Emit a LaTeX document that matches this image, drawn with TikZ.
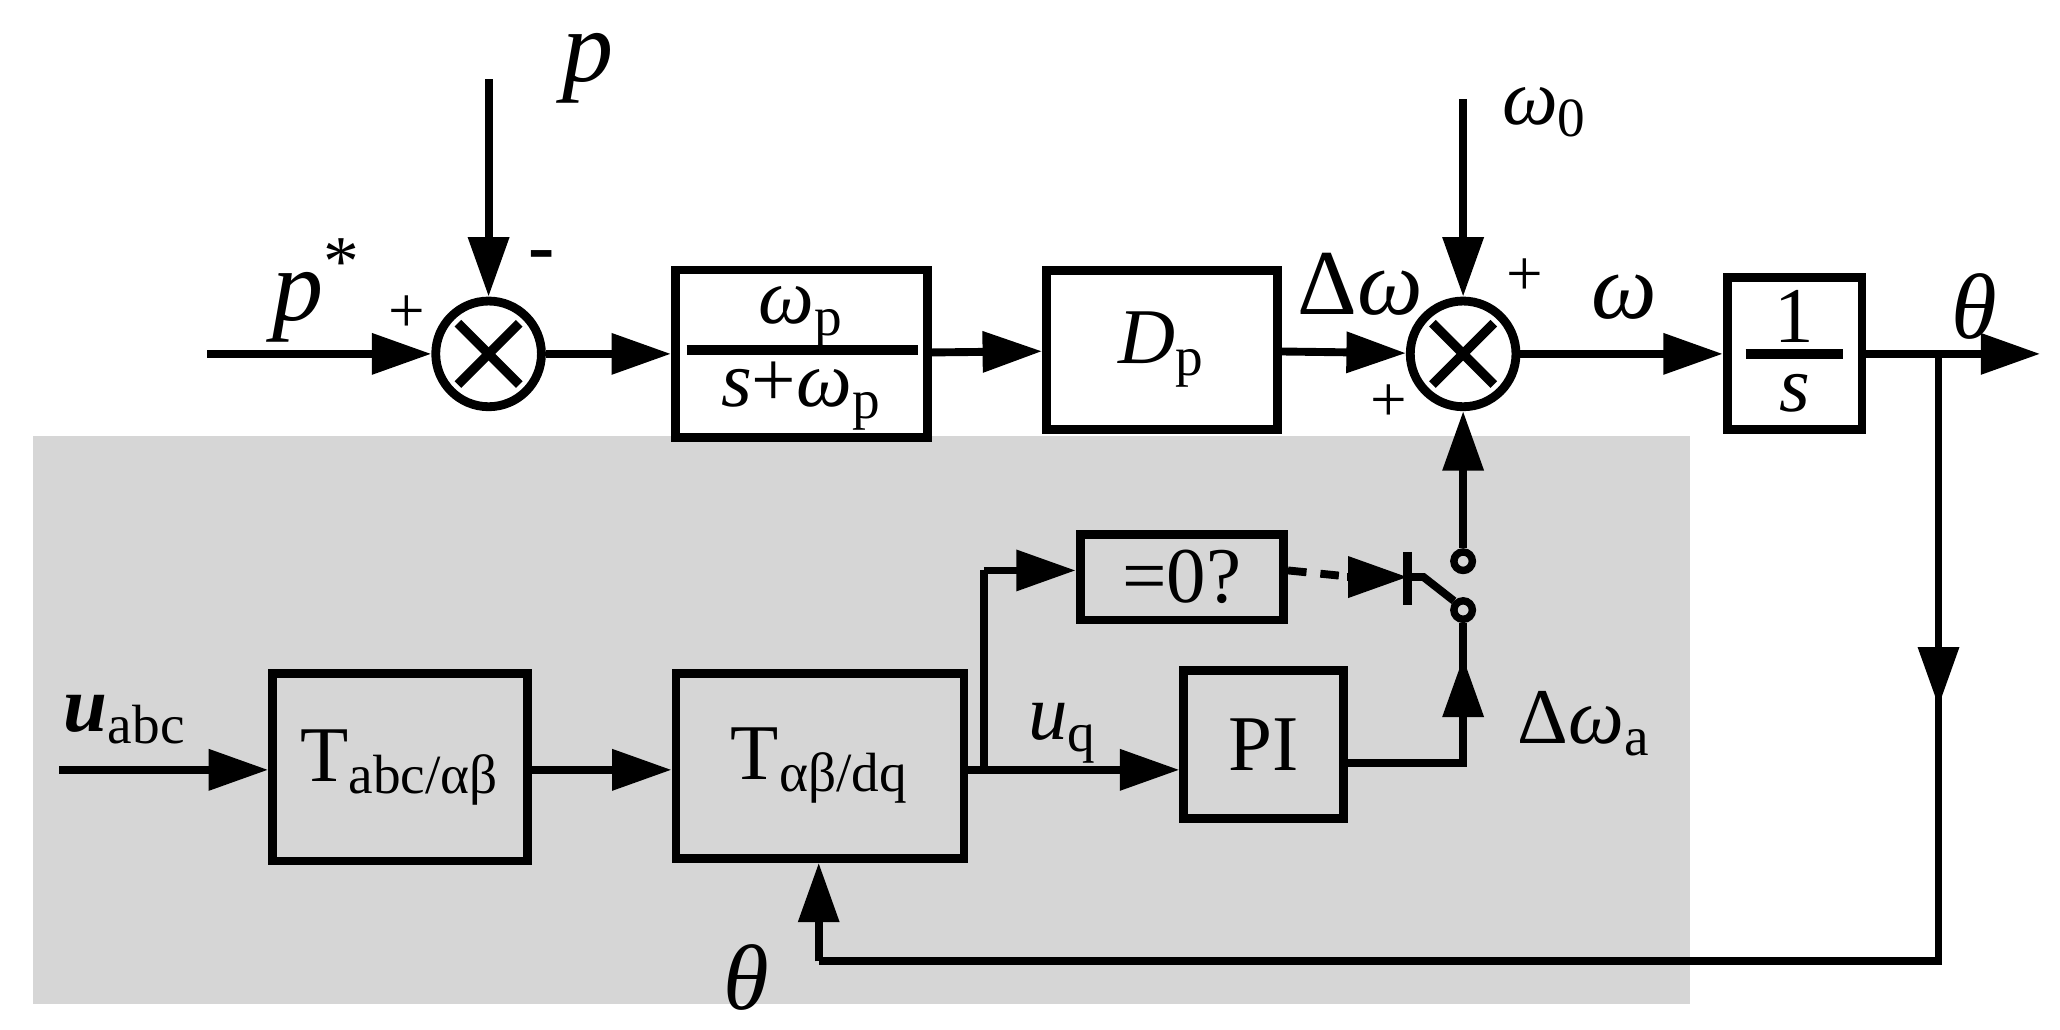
\documentclass[tikz,border=0pt]{standalone}
\usepackage{fontspec}
\setmainfont{Liberation Serif}
\usetikzlibrary{arrows.meta}
\begin{document}
\begin{tikzpicture}[x=0.01cm,y=-0.01cm,
  every node/.style={font=\fontsize{17}{19}\selectfont},
  line width=1.7pt,
  tri/.style={-{Triangle[length=0.45cm,width=0.3cm]}},
  blk/.style={draw,line width=1.9pt,minimum width=#1,inner sep=0pt},
  sum/.style={draw,circle,line width=1.9pt,minimum size=0.8cm,inner sep=0pt},
  xx/.style={line width=2pt,shorten >=3pt,shorten <=3pt},
  lab/.style={inner sep=0pt},
  sml/.style={font=\fontsize{14}{16}\selectfont,inner sep=0pt}]
\useasboundingbox (0,0) rectangle (1560,780);
\fill[gray!32] (25,330) rectangle (1280,760);
% sum nodes
\node[sum] (s1) at (370,268) {};
\draw[xx] (s1.45) -- (s1.225);
\draw[xx] (s1.135) -- (s1.315);
\node[sum] (s2) at (1108,268) {};
\draw[xx] (s2.45) -- (s2.225);
\draw[xx] (s2.135) -- (s2.315);
% blocks
\node[blk=1.91cm,minimum height=1.27cm] (f) at (607,268) {};
\node[lab] (fn) at (607,240) {\textit{ω}\textsubscript{p}};
\node[lab] (fd) at (607,300) {\textit{s}+\textit{ω}\textsubscript{p}};
\draw[line width=2pt] (520,265) -- (695,265);
\node[blk=1.75cm,minimum height=1.2cm] (dp) at (880,265) {\textit{D}\textsubscript{p}};
\node[blk=1.02cm,minimum height=1.15cm] (is) at (1359,268) {};
\node[lab] (one) at (1359,240) {1};
\node[lab] (ss) at (1359,298) {\textit{s}};
\draw[line width=2pt] (1322,268) -- (1396,268);
\node[blk=1.93cm,minimum height=1.42cm] (t1) at (303,581) {T\textsubscript{abc/αβ}};
\node[blk=2.18cm,minimum height=1.4cm] (t2) at (621,580) {T\textsubscript{αβ/dq}};
\node[blk=1.54cm,minimum height=0.65cm] (z) at (895,437) {=0?};
\node[blk=1.21cm,minimum height=1.12cm] (pi) at (957,564) {PI};
% coordinates
\coordinate (pin) at (157,268);
\coordinate (ptop) at (370,60);
\coordinate (wtop) at (1108,75);
\coordinate (out) at (1545,268);
\coordinate (br) at (1468,268);
\coordinate (bb) at (1468,728);
\coordinate (tb) at (620,728);
\coordinate (uin) at (45,583);
\coordinate (bq) at (745,583);
\coordinate (bz) at (745,432);
\coordinate (pio) at (1108,578);
% switch
\node[draw,circle,line width=1.6pt,minimum size=0.14cm,inner sep=0pt] (c1) at (1108,425) {};
\node[draw,circle,line width=1.6pt,minimum size=0.14cm,inner sep=0pt] (c2) at (1108,462) {};
\draw[line width=1.9pt] (1066,418) -- (1066,458);
\draw (1066,437) -- (1078,437) -- (c2.north west);
% connectors
\draw[tri] (pin) -- (s1);
\draw[tri] (ptop) -- (s1);
\draw[tri] (s1) -- (f);
\draw[tri] (f) -- (dp);
\draw[tri] (dp) -- (s2);
\draw[tri] (wtop) -- (s2);
\draw[tri] (s2) -- (is);
\draw[tri] (is) -- (out);
\draw (br) -- (bb) -- (tb);
\draw[tri] (br) -- (1468,535);
\draw[tri] (tb) -- (t2.south -| tb);
\draw[tri] (uin) -- (t1.west |- uin);
\draw[tri] (t1.east |- uin) -- (t2.west |- uin);
\draw[tri] (t2.east |- bq) -- (pi.west |- bq);
\draw (bq) -- (bz);
\draw[tri] (bz) -- (z.west |- bz);
\draw[dash pattern=on 4pt off 3pt] (z.east |- bz) -- (1025,437);
\draw[tri] (1020,437) -- (1066,437);
\draw (pi.east |- pio) -- (pio) -- (c2);
\draw[tri] (pio) -- (1108,498);
\draw[tri] (c1) -- (s2);
% labels
\node[lab] at (445,52) {\fontsize{22}{24}\selectfont\textit{p}};
\node[lab] at (240,220) {\fontsize{22}{24}\selectfont\textit{p}\textsuperscript{*}};
\node[sml] at (308,238) {+};
\node[lab] at (410,198) {\textbf{-}};
\node[lab] at (1170,85) {\textit{ω}\textsubscript{0}};
\node[lab] at (1030,215) {\fontsize{20}{22}\selectfont Δ\textit{ω}};
\node[sml] at (1155,210) {+};
\node[sml] at (1052,305) {+};
\node[lab] at (1230,225) {\fontsize{20}{22}\selectfont\textit{ω}};
\node[lab] at (1495,232) {\fontsize{20}{22}\selectfont\textit{θ}};
\node[lab] at (95,545) {\textbf{\textit{u}}\textsubscript{abc}};
\node[lab] at (805,555) {\textit{u}\textsubscript{q}};
\node[lab] at (1200,548) {Δ\textit{ω}\textsubscript{a}};
\node[lab] at (565,740) {\fontsize{20}{22}\selectfont\textit{θ}};
\end{tikzpicture}
\end{document}
